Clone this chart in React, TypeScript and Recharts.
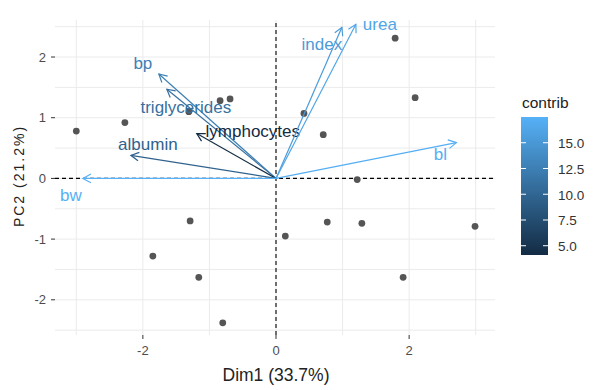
import React from "react";
import { ScatterChart, Scatter, XAxis, YAxis, ReferenceLine, CartesianGrid } from "recharts";

// individuals (Dim1, Dim2)
const indX = [-3.0, -2.27, -1.31, -0.84, -0.69, 0.42, 0.71, 1.79, 2.09, 1.22, -1.29, -1.85, -1.16, -0.8, 0.14, 0.77, 1.29, 2.99, 1.91];
const indY = [0.78, 0.92, 1.1, 1.28, 1.31, 1.07, 0.72, 2.31, 1.33, -0.02, -0.7, -1.28, -1.63, -2.38, -0.95, -0.72, -0.74, -0.79, -1.63];

// variables (arrow tips) and their contribution
const varNames = ["bp", "triglycerides", "lymphocytes", "albumin", "bw", "index", "urea", "bl"];
const varX = [-1.76, -1.64, -1.19, -2.18, -2.9, 0.99, 1.2, 2.71];
const varY = [1.72, 1.47, 0.74, 0.38, 0.0, 2.49, 2.54, 0.59];
const varContrib = [12.6, 11.0, 4.1, 9.6, 17.5, 15.3, 16.4, 17.2];

const xTicks = [-2, 0, 2];
const yTicks = [-2, -1, 0, 1, 2];
const xGrid = [-3, -2, -1, 0, 1, 2, 3];
const yGrid = [-2.5, -2, -1.5, -1, -0.5, 0, 0.5, 1, 1.5, 2, 2.5];
const legendTicks = [5.0, 7.5, 10.0, 12.5, 15.0];

const cMin = 4.1;
const cMax = 17.5;
const low = [19, 43, 67];
const high = [86, 177, 247];

function contribColor(v: number) {
  const t = Math.max(0, Math.min(1, (v - cMin) / (cMax - cMin)));
  const c = low.map((l, i) => Math.round(l + (high[i] - l) * t));
  return `rgb(${c[0]},${c[1]},${c[2]})`;
}

// label nudges in pixels from the arrow tip
const labelOffset: Record<string, [number, number]> = {
  bp: [-16, -11],
  triglycerides: [19, 18],
  lymphocytes: [56, -2],
  albumin: [17, -11],
  bw: [-12, 17],
  index: [-20, 17],
  urea: [24, 0],
  bl: [-16, 12],
};

const individuals = indX.map((x, i) => ({ x, y: indY[i] }));
const variables = varNames.map((name, i) => ({
  name,
  color: contribColor(varContrib[i]),
  data: [{ x: 0, y: 0 }, { x: varX[i], y: varY[i], name }],
}));

function arrowLine(color: string) {
  return (props: any) => {
    const pts = props.points;
    if (!pts || pts.length < 2) return <g />;
    const a = pts[0];
    const b = pts[1];
    const ang = Math.atan2(b.y - a.y, b.x - a.x);
    const L = 9;
    const w = 0.5;
    const h1 = `${b.x - L * Math.cos(ang - w)},${b.y - L * Math.sin(ang - w)}`;
    const h2 = `${b.x - L * Math.cos(ang + w)},${b.y - L * Math.sin(ang + w)}`;
    return (
      <g>
        <line x1={a.x} y1={a.y} x2={b.x} y2={b.y} stroke={color} strokeWidth={1.2} />
        <polyline points={`${h1} ${b.x},${b.y} ${h2}`} fill="none" stroke={color} strokeWidth={1.2} />
      </g>
    );
  };
}

function varLabel(color: string) {
  return (props: any) => {
    const { cx, cy, payload } = props;
    if (!payload || !payload.name) return <g />;
    const [dx, dy] = labelOffset[payload.name] || [0, 0];
    return (
      <text x={cx + dx} y={cy + dy} textAnchor="middle" dominantBaseline="central" fill={color} fontSize={17} fontFamily="Liberation Sans, Arial, sans-serif">
        {payload.name}
      </text>
    );
  };
}

const dot = (props: any) => <circle cx={props.cx} cy={props.cy} r={3.4} fill="#555555" />;

export default function App() {
  const barTop = 117;
  const barBottom = 255;
  const barH = barBottom - barTop;
  const font = "Liberation Sans, Arial, sans-serif";
  return (
    <div style={{ position: "absolute", left: 0, top: 0, width: 598, height: 390, background: "#fff", fontFamily: font }}>
      <ScatterChart width={598} height={390} margin={{ top: 20, right: 103, bottom: 10, left: 15 }}>
        <CartesianGrid stroke="#ebebeb" horizontalValues={yGrid} verticalValues={xGrid} />
        <XAxis
          type="number"
          dataKey="x"
          domain={[-3.32, 3.29]}
          ticks={xTicks}
          allowDataOverflow
          axisLine={false}
          tickSize={4}
          tickMargin={7}
          height={45}
          tickLine={{ stroke: "#333" }}
          tick={{ fill: "#4d4d4d", fontSize: 13, fontFamily: font }}
        />
        <YAxis
          type="number"
          dataKey="y"
          domain={[-2.58, 2.61]}
          ticks={yTicks}
          allowDataOverflow
          axisLine={false}
          tickSize={4}
          tickMargin={5}
          width={40}
          tickLine={{ stroke: "#333" }}
          tick={{ fill: "#4d4d4d", fontSize: 13, fontFamily: font }}
        />
        <ReferenceLine x={0} stroke="#000" strokeDasharray="4 3" strokeWidth={1.1} />
        <ReferenceLine y={0} stroke="#000" strokeDasharray="4 3" strokeWidth={1.1} />
        <Scatter data={individuals} shape={dot} isAnimationActive={false} />
        {variables.map((v) => (
          <Scatter
            key={v.name}
            data={v.data}
            line={arrowLine(v.color)}
            shape={varLabel(v.color)}
            isAnimationActive={false}
          />
        ))}
      </ScatterChart>
      <svg width={598} height={390} style={{ position: "absolute", left: 0, top: 0, pointerEvents: "none" }}>
        <defs>
          <linearGradient id="contribGrad" x1="0" y1="1" x2="0" y2="0">
            <stop offset="0%" stopColor="#132B43" />
            <stop offset="100%" stopColor="#56B1F7" />
          </linearGradient>
        </defs>
        <text x={276} y={381} textAnchor="middle" fontSize={17.5} fill="#222" fontFamily={font}>
          Dim1 (33.7%)
        </text>
        <text
          x={24}
          y={176}
          textAnchor="middle"
          fontSize={14}
          fill="#222"
          letterSpacing={2}
          fontFamily={font}
          transform="rotate(-90 24 176)"
        >
          PC2 (21.2%)
        </text>
        <text x={522} y={108} fontSize={15.5} fill="#222" fontFamily={font}>
          contrib
        </text>
        <rect x={521} y={barTop} width={27} height={barH} fill="url(#contribGrad)" />
        {legendTicks.map((t) => {
          const y = barBottom - ((t - cMin) / (cMax - cMin)) * barH;
          return (
            <g key={t}>
              <line x1={521} x2={526} y1={y} y2={y} stroke="#fff" strokeWidth={1} />
              <line x1={543} x2={548} y1={y} y2={y} stroke="#fff" strokeWidth={1} />
              <text x={558} y={y + 1} dominantBaseline="central" fontSize={13.5} fill="#333" fontFamily={font}>
                {t.toFixed(1)}
              </text>
            </g>
          );
        })}
      </svg>
    </div>
  );
}
